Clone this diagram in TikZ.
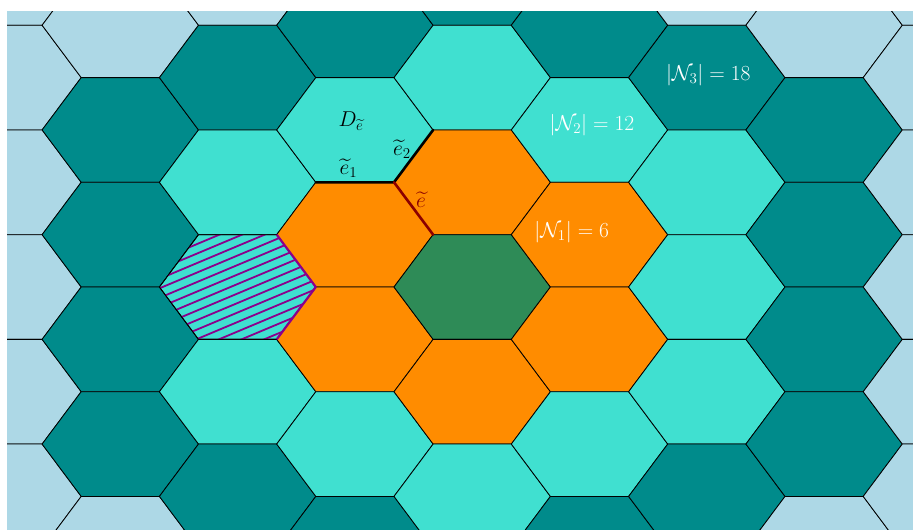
\RequirePackage{fix-cm}
\documentclass[tikz,border=0pt]{standalone}
\usepackage{amsmath,amssymb}
\usetikzlibrary{calc}
\definecolor{hexcA}{RGB}{46,139,87}
\definecolor{hexcB}{RGB}{255,140,0}
\definecolor{hexcC}{RGB}{64,224,208}
\definecolor{hexcD}{RGB}{0,139,139}
\definecolor{hexcE}{RGB}{173,216,230}
\definecolor{hatchpurple}{RGB}{139,0,139}
\definecolor{edgered}{RGB}{139,0,0}
\newcommand\hexpth[2]{(#1-78.2,#2) -- (#1-39.1,#2-52.35) -- (#1+39.1,#2-52.35) -- (#1+78.2,#2) -- (#1+39.1,#2+52.35) -- (#1-39.1,#2+52.35) -- cycle}
\tikzset{
  hexcell/.style={draw=black, line width=0.8pt},
  lbl/.style={inner sep=0pt, font=\fontsize{21.5}{26}\selectfont},
  wlbl/.style={lbl, text=white},
  thickedge/.style={line width=2.6pt, line cap=round},
}
\begin{document}
\begin{tikzpicture}[x=1pt,y=-1pt]
\useasboundingbox (0,0) rectangle (913,530);
\begin{scope}
\clip (7,11) rectangle (913,530);
\foreach \q in {-4,...,4} {
  \foreach \r in {-7,...,7} {
    \pgfmathsetmacro\cx{472.2+117.3*\q}
    \pgfmathsetmacro\cy{287+104.7*(\r+\q/2)}
    \pgfmathtruncatemacro\dd{(abs(\q)+abs(\r)+abs(\q+\r))/2}
    \ifnum\dd>4 \def\dd{4}\fi
    \edef\hc{\ifcase\dd hexcA\or hexcB\or hexcC\or hexcD\else hexcE\fi}
    \filldraw[hexcell, fill=\hc] \hexpth{\cx}{\cy};
  }
}
% hatched cell
\begin{scope}
  \clip \hexpth{237.6}{287};
  \foreach \i in {-25,...,25}
    \draw[hatchpurple, line width=1.8pt] (140,287+9.5*\i) -- ++(200,-200*0.42);
\end{scope}
\draw[hexcell] \hexpth{237.6}{287};
\coordinate (hA) at (276.7,234.65);
\coordinate (hB) at (315.8,287);
\coordinate (hC) at (276.7,339.35);
\draw[hatchpurple, line width=2.2pt, line join=round] (hA) -- (hB) -- (hC);
% special edges
\coordinate (v1) at (315.8,182.3);
\coordinate (v2) at (394.0,182.3);
\coordinate (v3) at (433.1,129.95);
\coordinate (v4) at (433.1,234.65);
\draw[thickedge, black] (v1) -- (v2) -- (v3);
\draw[thickedge, edgered] (v2) -- (v4);
% labels
\node[lbl] (De) at (351,121) {$D_{\widetilde{e}}$};
\node[lbl] (e2) at (402,149) {$\widetilde{e}_2$};
\node[lbl] (e1) at (348.5,168.5) {$\widetilde{e}_1$};
\node[lbl, text=edgered] (et) at (421,200) {$\widetilde{e}$};
\node[wlbl] (n1) at (571.7,231.7) {$|\mathcal{N}_1| = 6$};
\node[wlbl] (n2) at (592,125) {$|\mathcal{N}_2| = 12$};
\node[wlbl] (n3) at (708.3,75) {$|\mathcal{N}_3| = 18$};
\end{scope}
\end{tikzpicture}
\end{document}
